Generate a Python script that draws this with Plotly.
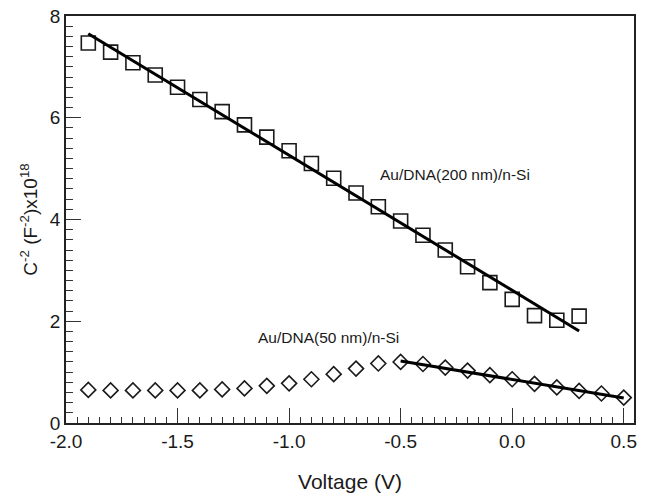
import plotly.graph_objects as go

# Data
v_200 = [-1.9, -1.8, -1.7, -1.6, -1.5, -1.4, -1.3, -1.2, -1.1, -1.0, -0.9, -0.8,
         -0.7, -0.6, -0.5, -0.4, -0.3, -0.2, -0.1, 0.0, 0.1, 0.2, 0.3]
c_200 = [7.47, 7.29, 7.08, 6.84, 6.60, 6.36, 6.12, 5.86, 5.62, 5.35, 5.10, 4.81,
         4.52, 4.25, 3.97, 3.69, 3.40, 3.07, 2.76, 2.43, 2.11, 2.02, 2.10]

v_50 = [-1.9, -1.8, -1.7, -1.6, -1.5, -1.4, -1.3, -1.2, -1.1, -1.0, -0.9, -0.8,
        -0.7, -0.6, -0.5, -0.4, -0.3, -0.2, -0.1, 0.0, 0.1, 0.2, 0.3, 0.4, 0.5]
c_50 = [0.65, 0.64, 0.64, 0.64, 0.64, 0.64, 0.66, 0.68, 0.73, 0.78, 0.86, 0.96,
        1.07, 1.17, 1.20, 1.16, 1.09, 1.03, 0.94, 0.86, 0.77, 0.70, 0.63, 0.58, 0.50]

fit200_v = [-1.9, 0.3]
fit200_c = [7.65, 1.81]
fit50_v = [-0.5, 0.5]
fit50_c = [1.22, 0.49]

x_ticks = [-2.0, -1.5, -1.0, -0.5, 0.0, 0.5]
x_ticktext = ["-2.0", "-1.5", "-1.0", "-0.5", "0.0", "0.5"]
y_ticks = [0, 2, 4, 6, 8]

label_200 = "Au/DNA(200 nm)/n-Si"
label_50 = "Au/DNA(50 nm)/n-Si"

fig = go.Figure()
fig.add_trace(go.Scatter(x=v_200, y=c_200, mode="markers",
                         marker=dict(symbol="square-open", size=14, color="#1a1a1a",
                                     line=dict(width=1.6, color="#1a1a1a")),
                         showlegend=False))
fig.add_trace(go.Scatter(x=v_50, y=c_50, mode="markers",
                         marker=dict(symbol="diamond-open", size=11.5, color="#1a1a1a",
                                     line=dict(width=1.6, color="#1a1a1a")),
                         showlegend=False))
fig.add_trace(go.Scatter(x=fit200_v, y=fit200_c, mode="lines",
                         line=dict(color="black", width=3), showlegend=False))
fig.add_trace(go.Scatter(x=fit50_v, y=fit50_c, mode="lines",
                         line=dict(color="black", width=3), showlegend=False))

label_font = dict(family="Liberation Sans, Arial", size=15.5, color="#1a1a1a")
fig.add_annotation(x=-0.60, y=4.89, text=label_200, showarrow=False,
                   xanchor="left", yanchor="middle", font=label_font)
fig.add_annotation(x=-1.15, y=1.69, text=label_50, showarrow=False,
                   xanchor="left", yanchor="middle", font=label_font)

axis_font = dict(family="Liberation Sans, Arial", size=19, color="#1a1a1a")
title_font = dict(family="Liberation Sans, Arial", size=21, color="#1a1a1a")

# page body has an 8px margin, so the figure is sized to sit inside the window
fig.update_layout(
    width=640, height=490,
    margin=dict(l=58, r=14, t=8, b=75),
    plot_bgcolor="white", paper_bgcolor="white",
    font=axis_font,
    xaxis=dict(range=[-2.0, 0.546], tickmode="array",
               tickvals=x_ticks, ticktext=x_ticktext,
               ticks="inside", ticklen=15, tickwidth=1, tickcolor="#333",
               minor=dict(dtick=0.05, tick0=0, ticks="inside", ticklen=6,
                          tickwidth=1, tickcolor="#333", showgrid=False),
               showline=True, linecolor="#222", linewidth=1.5, mirror=True,
               showgrid=False, zeroline=False, automargin=False,
               ticklabeloverflow="allow",
               title=dict(text="Voltage (V)", font=title_font, standoff=24),
               tickfont=axis_font),
    yaxis=dict(range=[0, 8], tickmode="array", tickvals=y_ticks,
               ticks="inside", ticklen=15, tickwidth=1, tickcolor="#333",
               minor=dict(dtick=0.2, tick0=0, ticks="inside", ticklen=7,
                          tickwidth=1, tickcolor="#333", showgrid=False),
               showline=True, linecolor="#222", linewidth=1.5, mirror=True,
               showgrid=False, zeroline=False, automargin=False,
               ticklabeloverflow="allow",
               title=dict(text="C<sup>-2</sup> (F<sup>-2</sup>)x10<sup>18</sup>",
                          font=axis_font, standoff=7),
               tickfont=axis_font),
)

fig.write_html("out.html")
